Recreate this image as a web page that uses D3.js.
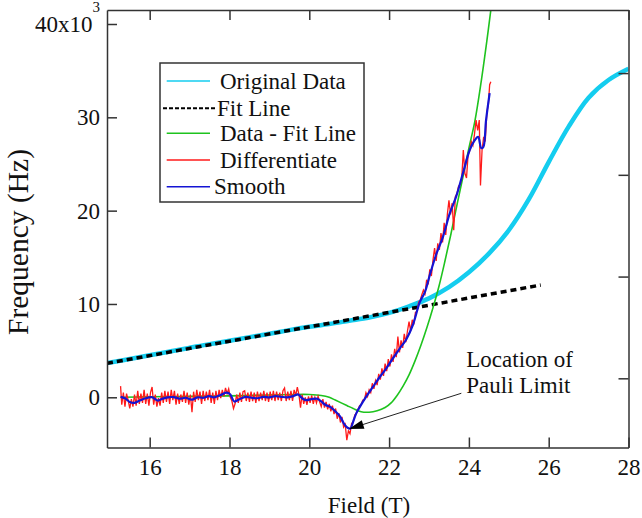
<!DOCTYPE html>
<html>
<head>
<meta charset="utf-8">
<script src="https://cdn.jsdelivr.net/npm/d3@7"></script>
<style>
body { margin: 0; background: #fff; }
svg text { font-family: "Liberation Serif", "Times New Roman", serif; fill: #111; }
.axis path, .axis line { stroke: #333; stroke-width: 1.5; }
</style>
</head>
<body>
<div id="body"></div>
<script>
// values in kHz, field in T
var originalData = [[14.93,3.68],[15.5,4.1],[16,4.5],[16.5,4.9],[17,5.3],[17.5,5.7],[18,6.05],[18.5,6.45],[19,6.8],[19.5,7.2],[20,7.55],[20.5,7.85],[21,8.2],[21.5,8.55],[22,9.05],[22.5,9.75],[23,10.6],[23.5,11.8],[24,13.4],[24.5,15.4],[25,17.9],[25.5,21.2],[26,25.2],[26.5,29.0],[27,32.1],[27.5,34.0],[28,35.2]];

var fitLine = [[14.93,3.64],[25.8,12.03]];

var dataMinusFit = [[15.27,0.0],[16.0,0.05],[17.0,0.1],[18.0,0.15],[19.0,0.25],[19.6,0.3],[20.0,0.3],[20.3,0.2],[20.5,0.0],[20.65,-0.3],[20.8,-0.6],[20.95,-0.9],[21.1,-1.2],[21.3,-1.55],[21.5,-1.6],[21.7,-1.45],[21.9,-1.1],[22.05,-0.6],[22.2,0.2],[22.35,1.2],[22.5,2.4],[22.65,3.9],[22.8,5.6],[22.95,7.5],[23.1,9.6],[23.25,11.9],[23.4,14.6],[23.55,17.5],[23.7,20.6],[23.85,23.6],[24.0,26.7],[24.15,29.6],[24.3,33.6],[24.45,38.2],[24.55,41.5]];

var differentiate = [[15.27,1.2],[15.30,-0.8],[15.34,0.5],[15.38,-1.0],[15.42,0.4],[15.46,-0.3],[15.50,-1.2],[15.54,-0.2],[15.58,-1.0],[15.62,0.3],[15.66,-0.9],[15.70,0.7],[15.74,-0.7],[15.78,0.4],[15.82,-0.6],[15.86,0.8],[15.90,-0.7],[15.94,0.4],[15.98,-0.9],[16.02,0.5],[16.06,1.1],[16.10,-0.8],[16.14,0.3],[16.18,-1.0],[16.22,-0.1],[16.26,-0.9],[16.30,0.5],[16.34,-0.6],[16.38,0.7],[16.42,-0.5],[16.46,0.6],[16.50,-0.7],[16.54,0.8],[16.58,-0.3],[16.62,0.7],[16.66,-0.8],[16.70,0.4],[16.74,-0.7],[16.78,0.3],[16.82,-0.5],[16.86,0.7],[16.90,-0.6],[16.94,0.5],[16.98,-0.8],[17.02,0.3],[17.06,-1.6],[17.10,0.6],[17.14,-0.5],[17.18,0.8],[17.22,-0.3],[17.26,0.6],[17.30,-0.7],[17.34,0.7],[17.38,-0.4],[17.42,0.6],[17.46,-0.3],[17.50,0.8],[17.54,-0.6],[17.58,0.5],[17.62,-0.7],[17.66,0.7],[17.70,-0.3],[17.74,0.8],[17.78,-0.1],[17.82,0.8],[17.86,0.1],[17.90,1.0],[17.94,0.4],[17.98,0.9],[18.02,0.0],[18.06,-0.4],[18.10,-1.2],[18.14,-0.7],[18.18,0.3],[18.22,-0.6],[18.26,0.5],[18.30,-0.5],[18.34,0.6],[18.38,0.7],[18.42,-0.4],[18.46,0.5],[18.50,-0.5],[18.54,0.6],[18.58,-0.4],[18.62,0.5],[18.66,-0.6],[18.70,0.6],[18.74,-0.4],[18.78,0.5],[18.82,-0.3],[18.86,0.7],[18.90,-0.4],[18.94,0.5],[18.98,-0.5],[19.02,0.6],[19.06,-0.3],[19.10,0.7],[19.14,-0.4],[19.18,0.6],[19.22,-0.3],[19.26,0.5],[19.30,-0.4],[19.34,0.7],[19.38,1.0],[19.42,-0.4],[19.46,0.6],[19.50,-0.3],[19.54,0.7],[19.58,-0.4],[19.62,0.8],[19.66,0.2],[19.70,1.1],[19.74,0.3],[19.78,-1.1],[19.82,0.3],[19.86,-0.7],[19.90,0.0],[19.94,-0.8],[19.98,0.1],[20.02,-0.6],[20.06,0.2],[20.10,-0.7],[20.14,0.0],[20.18,-0.6],[20.22,0.1],[20.26,-0.5],[20.30,-1.0],[20.34,-0.2],[20.38,-1.1],[20.42,-0.5],[20.46,-1.3],[20.50,-0.7],[20.54,-1.5],[20.58,-0.9],[20.62,-1.8],[20.66,-1.2],[20.70,-2.3],[20.74,-1.7],[20.78,-2.7],[20.82,-2.1],[20.86,-3.2],[20.90,-2.9],[20.94,-4.6],[20.98,-3.6],[21.02,-3.9],[21.06,-2.8],[21.10,-2.7],[21.14,-1.9],[21.18,-1.7],[21.22,-1.3],[21.26,-0.9],[21.30,-0.8],[21.34,-0.3],[21.38,-0.3],[21.42,0.5],[21.46,0.1],[21.50,0.8],[21.54,0.5],[21.58,1.5],[21.62,0.9],[21.66,1.8],[21.70,1.3],[21.74,2.5],[21.78,1.9],[21.82,3.1],[21.86,2.3],[21.90,3.6],[21.94,2.8],[21.98,4.1],[22.02,3.3],[22.06,4.6],[22.10,3.8],[22.14,5.2],[22.18,4.3],[22.22,6.5],[22.26,4.8],[22.30,6.1],[22.34,5.3],[22.38,6.8],[22.42,5.9],[22.46,7.1],[22.50,8.1],[22.54,7.1],[22.58,8.3],[22.62,7.8],[22.66,9.1],[22.70,9.2],[22.74,10.2],[22.78,10.4],[22.82,11.0],[22.86,11.5],[22.90,11.1],[22.94,12.6],[22.98,12.1],[23.02,13.7],[23.06,13.0],[23.10,14.7],[23.14,16.0],[23.18,14.6],[23.22,16.5],[23.26,15.8],[23.30,17.6],[23.34,16.6],[23.38,18.7],[23.42,17.4],[23.46,19.6],[23.50,21.1],[23.54,19.6],[23.58,20.8],[23.62,17.9],[23.66,21.5],[23.70,21.8],[23.74,22.6],[23.78,22.8],[23.82,23.4],[23.86,26.5],[23.90,24.0],[23.94,23.5],[23.98,26.0],[24.02,26.4],[24.06,27.4],[24.10,27.0],[24.14,28.2],[24.18,29.7],[24.22,28.6],[24.26,29.7],[24.29,22.7],[24.33,26.5],[24.37,27.9],[24.41,27.4],[24.45,30.5],[24.49,31.5],[24.52,33.5],[24.55,33.8]];

var smooth = [[15.27,0.05],[15.38,-0.1],[15.5,-0.5],[15.62,-0.6],[15.75,-0.35],[15.9,-0.1],[16.06,0.0],[16.2,-0.35],[16.32,-0.15],[16.45,0.0],[16.6,0.02],[16.75,-0.15],[16.9,-0.05],[17.06,-0.25],[17.2,0.0],[17.35,-0.05],[17.48,0.12],[17.62,0.0],[17.78,0.25],[17.93,0.5],[18.02,0.3],[18.12,-0.45],[18.25,-0.2],[18.4,0.05],[18.55,-0.05],[18.7,-0.1],[18.85,0.05],[19.0,0.0],[19.15,0.12],[19.3,0.05],[19.45,0.0],[19.6,0.12],[19.72,0.3],[19.82,-0.1],[19.92,-0.3],[20.05,-0.2],[20.2,-0.15],[20.3,-0.45],[20.4,-0.8],[20.55,-1.1],[20.65,-1.5],[20.77,-2.05],[20.88,-2.9],[20.97,-3.3],[21.03,-3.35],[21.1,-2.6],[21.18,-1.7],[21.27,-1.0],[21.43,0.1],[21.6,1.15],[21.77,2.2],[21.93,3.1],[22.1,4.2],[22.27,5.25],[22.43,6.2],[22.6,7.8],[22.77,10.2],[22.9,11.3],[23.02,13.1],[23.18,15.3],[23.35,17.2],[23.52,19.7],[23.68,21.5],[23.85,24.0],[24.02,26.5],[24.14,27.5],[24.23,27.9],[24.31,26.7],[24.36,26.8],[24.43,29.7],[24.52,32.6]];

var xTicks = [16, 18, 20, 22, 24, 26, 28];
var yTicks = [0, 10, 20, 30, 40];
var rightTicks = [0, 10, 20, 30];

var legendNames = ["Original Data", "Fit Line", "Data - Fit Line", "Differentiate", "Smooth"];
var legendColors = ["#14cdef", "#000", "#1ec31e", "#ff1a1a", "#1414d4"];

var serif = "'Liberation Serif', 'Times New Roman', serif";

var margin = {top: 10, right: 13.5, bottom: 70.5, left: 107},
    width = 642 - margin.left - margin.right,
    height = 518 - margin.top - margin.bottom;

var svg = d3.select("#body").append("svg")
    .attr("width", 642)
    .attr("height", 518);

var g = svg.append("g")
    .attr("transform", "translate(" + margin.left + "," + margin.top + ")");

var x = d3.scaleLinear().domain([14.93, 28]).range([0, width]);
var y = d3.scaleLinear().domain([-5.38, 41.5]).range([height, 0]);
var yRight = d3.scaleLinear().domain([-6.8, 36.2]).range([height, 0]);

g.append("clipPath").attr("id", "plot")
  .append("rect").attr("width", width).attr("height", height);

var line = d3.line()
    .x(function(d) { return x(d[0]); })
    .y(function(d) { return y(d[1]); });

var plot = g.append("g").attr("clip-path", "url(#plot)");

plot.append("path").datum(originalData)
    .attr("d", line.curve(d3.curveCatmullRom))
    .attr("fill", "none").attr("stroke", legendColors[0]).attr("stroke-width", 4.5);

line.curve(d3.curveLinear);

plot.append("path").datum(fitLine)
    .attr("d", line)
    .attr("fill", "none").attr("stroke", "#000").attr("stroke-width", 3.5)
    .attr("stroke-dasharray", "6,4");

plot.append("path").datum(dataMinusFit)
    .attr("d", line.curve(d3.curveCatmullRom))
    .attr("fill", "none").attr("stroke", legendColors[2]).attr("stroke-width", 1.6);

line.curve(d3.curveLinear);

plot.append("path").datum(differentiate)
    .attr("d", line)
    .attr("fill", "none").attr("stroke", legendColors[3]).attr("stroke-width", 1.3);

plot.append("path").datum(smooth)
    .attr("d", line.curve(d3.curveCatmullRom))
    .attr("fill", "none").attr("stroke", legendColors[4]).attr("stroke-width", 2.2);

// axes, all ticks pointing inward
var xAx = g.append("g").attr("class", "axis")
    .attr("transform", "translate(0," + height + ")")
    .call(d3.axisBottom(x).tickValues(xTicks).tickSize(-10).tickSizeOuter(0).tickPadding(11));
xAx.selectAll("text").style("font-family", serif).style("font-size", "23px");

g.append("g").attr("class", "axis")
    .call(d3.axisTop(x).tickValues(xTicks).tickSize(-10).tickSizeOuter(0).tickFormat(""));

var yAx = g.append("g").attr("class", "axis")
    .call(d3.axisLeft(y).tickValues(yTicks).tickSize(-10).tickSizeOuter(0).tickPadding(7));
yAx.selectAll("text").style("font-family", serif).style("font-size", "23px");
yAx.selectAll(".tick text").filter(function(d) { return d == 40; })
    .text("40x10")
  .append("tspan")
    .attr("dy", -20)
    .style("font-size", "15px")
    .text("3");

g.append("g").attr("class", "axis")
    .attr("transform", "translate(" + width + ",0)")
    .call(d3.axisRight(yRight).tickValues(rightTicks).tickSize(-10).tickSizeOuter(0).tickFormat(""));

g.selectAll(".domain").attr("fill", "none");

// axis titles
svg.append("text")
    .attr("x", 369).attr("y", 513)
    .attr("text-anchor", "middle")
    .style("font-family", serif).style("font-size", "23px")
    .text("Field (T)");

svg.append("text")
    .attr("transform", "translate(28,242) rotate(-90)")
    .attr("text-anchor", "middle")
    .style("font-family", serif).style("font-size", "29.5px")
    .text("Frequency (Hz)");

// legend
var legend = svg.append("g").attr("transform", "translate(160,63)");
legend.append("rect")
    .attr("width", 204).attr("height", 139)
    .attr("fill", "#fff").attr("stroke", "#333").attr("stroke-width", 1.5);

var rowY = [18, 45.3, 70.3, 97, 123.7];
var lineX = [[6.7, 50], [3, 56.7], [6.7, 50], [6.7, 50], [6.7, 50]];
var textX = [60, 57, 60, 60, 54];

legendNames.forEach(function(name, i) {
    legend.append("line")
        .attr("x1", lineX[i][0]).attr("x2", lineX[i][1])
        .attr("y1", rowY[i]).attr("y2", rowY[i])
        .attr("stroke", legendColors[i])
        .attr("stroke-width", i == 1 ? 2 : 1.6)
        .attr("stroke-dasharray", i == 1 ? "4,2" : null);
    legend.append("text")
        .attr("x", textX[i]).attr("y", rowY[i] + 7.5)
        .style("font-family", serif).style("font-size", "23px")
        .text(name);
});

// annotation
var tip = [20.99, -3.4], tail = [23.81, 0.43];
var tx = x(tip[0]), ty = y(tip[1]), sx = x(tail[0]), sy = y(tail[1]);
var ang = Math.atan2(sy - ty, sx - tx);
g.append("line")
    .attr("x1", sx).attr("y1", sy).attr("x2", tx + 12 * Math.cos(ang)).attr("y2", ty + 12 * Math.sin(ang))
    .attr("stroke", "#222").attr("stroke-width", 1);
g.append("path")
    .attr("d", "M0,0L15,-4.5L15,4.5Z")
    .attr("transform", "translate(" + tx + "," + ty + ") rotate(" + (ang * 180 / Math.PI) + ")")
    .attr("fill", "#000");

g.append("text")
    .attr("x", sx + 5).attr("y", sy - 26.5)
    .style("font-family", serif).style("font-size", "23px")
    .text("Location of");
g.append("text")
    .attr("x", sx + 5).attr("y", sy - 0.5)
    .style("font-family", serif).style("font-size", "23px")
    .text("Pauli Limit");
</script>
</body>
</html>
